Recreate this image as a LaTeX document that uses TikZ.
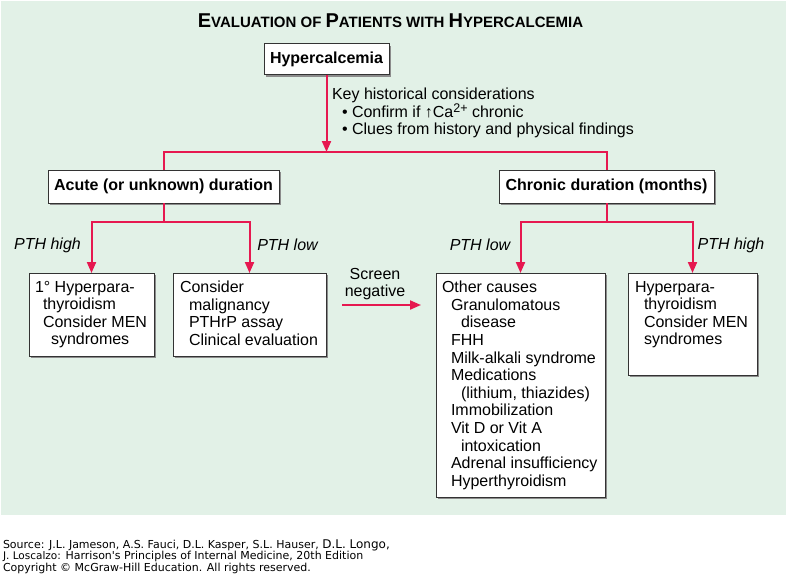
\documentclass[tikz,border=0pt]{standalone}
\usepackage{fontspec}
\setmainfont{Liberation Sans}
\newfontfamily\footfont{DejaVu Sans}
\usetikzlibrary{arrows.meta,shadows,calc}
\definecolor{bgc}{RGB}{226,241,231}
\definecolor{myred}{RGB}{230,24,80}
\newcommand\tsc[2]{{\fontsize{20}{20}\selectfont #1}{\fontsize{15}{15}\selectfont #2}}
\begin{document}
\begin{tikzpicture}[x=1pt,y=-1pt,
  every node/.style={inner sep=0pt, outer sep=0pt},
  box/.style={draw=black!80, line width=0.8pt, fill=white, rectangle,
    drop shadow={shadow xshift=2pt, shadow yshift=-2pt, fill=black!45, opacity=1}},
  head/.style={font=\fontsize{16}{18}\selectfont\bfseries},
  body/.style={font=\fontsize{16}{17.6}\selectfont, align=left, anchor=north west},
  lbl/.style={font=\fontsize{16}{17.6}\selectfont\itshape},
  conn/.style={draw=myred, line width=2pt},
  arr/.style={conn, -{Triangle[length=11pt,width=9pt]}},
]
\useasboundingbox (0,0) rectangle (786,576);
\fill[bgc] (1,1) rectangle (786,515);

\node[font=\bfseries] (title) at (390.5,21) {\tsc{E}{VALUATION OF }\tsc{P}{ATIENTS WITH }\tsc{H}{YPERCALCEMIA}};

\node[box, head, minimum width=125pt, minimum height=31pt] (H) at (326.5,59) {Hypercalcemia};
\node[body] (key) at (332,88) {Key historical considerations\\
  \hspace*{10pt}• Confirm if ↑Ca\raisebox{4.5pt}{\fontsize{12.5}{12.5}\selectfont 2+} chronic\\
  \hspace*{10pt}• Clues from history and physical findings};

\node[box, head, minimum width=231pt, minimum height=33pt] (A) at (163.5,186.5) {Acute (or unknown) duration};
\node[box, head, minimum width=215pt, minimum height=33pt] (C) at (606.5,186.5) {Chronic duration (months)};

\node[box, minimum width=125pt, minimum height=83pt] (B1) at (91.5,314.5) {};
\node[box, minimum width=153pt, minimum height=83pt] (B2) at (249.5,314.5) {};
\node[box, minimum width=169pt, minimum height=224pt] (B3) at (520.5,385) {};
\node[box, minimum width=129pt, minimum height=102pt] (B4) at (692.5,324) {};

\node[body] (t1) at ($(B1.north west)+(6,8)$) {1° Hyperpara-\\
  \hspace*{8pt}thyroidism\\
  \hspace*{8pt}Consider MEN\\
  \hspace*{16pt}syndromes};
\node[body] (t2) at ($(B2.north west)+(7,8)$) {Consider\\
  \hspace*{9pt}malignancy\\
  \hspace*{9pt}PTHrP assay\\
  \hspace*{9pt}Clinical evaluation};
\node[body] (t3) at ($(B3.north west)+(6,8)$) {Other causes\\
  \hspace*{9pt}Granulomatous\\
  \hspace*{19pt}disease\\
  \hspace*{9pt}FHH\\
  \hspace*{9pt}Milk-alkali syndrome\\
  \hspace*{9pt}Medications\\
  \hspace*{19pt}(lithium, thiazides)\\
  \hspace*{9pt}Immobilization\\
  \hspace*{9pt}Vit D or Vit A\\
  \hspace*{19pt}intoxication\\
  \hspace*{9pt}Adrenal insufficiency\\
  \hspace*{9pt}Hyperthyroidism};
\node[body] (t4) at ($(B4.north west)+(7,8)$) {Hyperpara-\\
  \hspace*{9pt}thyroidism\\
  \hspace*{9pt}Consider MEN\\
  \hspace*{9pt}syndromes};

\node[lbl] (l1) at (47.5,245) {PTH high};
\node[lbl] (l2) at (287.5,245) {PTH low};
\node[lbl] (l3) at (480,245) {PTH low};
\node[lbl] (l4) at (731,245) {PTH high};

\node[font=\fontsize{16}{17.6}\selectfont, align=center] (sn) at (375,284) {Screen\\negative};
\coordinate (s1) at (342,305);
\coordinate (s2) at (421,305);
\draw[arr] (s1) -- (s2);

\coordinate (j0) at (326.5,152);
\draw[arr] (H.south) -- (j0);
\draw[conn] (A.north) |- (j0) -| (C.north);
\coordinate (ja) at (163.5,222);
\coordinate (jc) at (606.5,222);
\draw[conn] (A.south) -- (ja);
\draw[arr] (ja) -| (B1.north);
\draw[arr] (ja) -| (B2.north);
\draw[conn] (C.south) -- (jc);
\draw[arr] (jc) -| (B3.north);
\draw[arr] (jc) -| (B4.north);

\node[font=\footfont\fontsize{11}{11.5}\selectfont, align=left, anchor=north west] (src) at (3,539.5)
  {Source: J.L. Jameson, A.S. Fauci, D.L. Kasper, S.L. Hauser, {\fontsize{12}{11.5}\selectfont D.L. Longo,}\\
   {\fontsize{10.5}{11.5}\selectfont J. Loscalzo:} Harrison's Principles of Internal Medicine, 20th Edition\\
   Copyright © McGraw-Hill Education. All rights reserved.};
\end{tikzpicture}
\end{document}
